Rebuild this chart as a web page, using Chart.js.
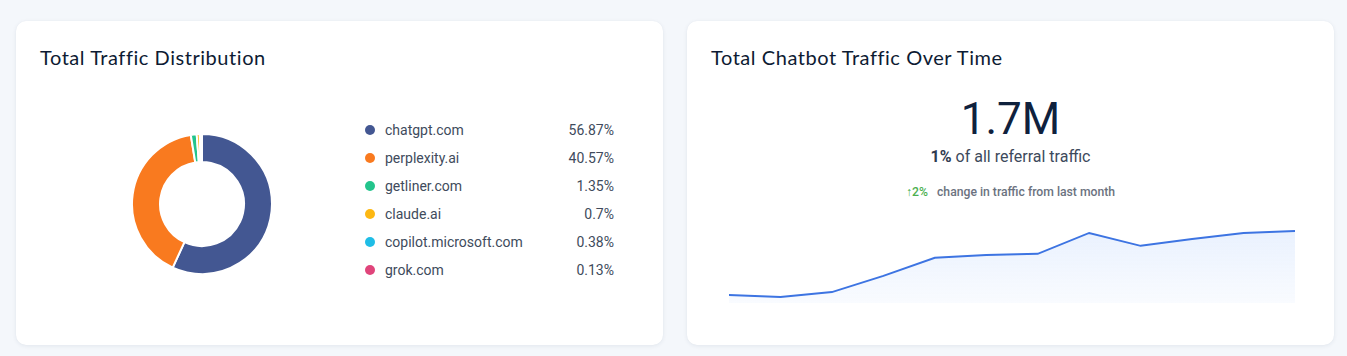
<!DOCTYPE html>
<html>
<head>
<meta charset="utf-8">
<script src="https://cdn.jsdelivr.net/npm/chart.js@4.4.1/dist/chart.umd.min.js"></script>
<style>
  html, body { margin:0; padding:0; }
  body { width:1347px; height:356px; background:#f4f7fb; position:relative; overflow:hidden; font-family: Roboto, "Noto Sans", sans-serif; }
  .card { position:absolute; top:21px; width:647px; height:324px; background:#fff; border-radius:10px;
          box-shadow: 0 1px 4px rgba(30,50,90,0.08), 0 0 1px rgba(30,50,90,0.06); }
  .title { position:absolute; left:24px; top:26px; font-family: Lato, sans-serif; font-size:20px; line-height:20px; letter-spacing:0.55px; color:#0d1b33; white-space:nowrap; }
  .abs { position:absolute; white-space:nowrap; }
  #legend { position:absolute; left:344px; top:95px; width:254px; }
  .row { display:flex; align-items:center; height:28px; font-size:14px; color:#404b5c; }
  .dot { width:10px; height:10px; border-radius:50%; margin-left:5px; margin-right:10px; flex:none; }
  .lab { flex:1; }
  .pct { text-align:right; }
</style>
</head>
<body>
<div class="card" id="c1" style="left:16px;">
  <div class="title">Total Traffic Distribution</div>
  <div class="abs" style="left:115px; top:112px; width:142px; height:142px;"><canvas id="pie" width="142" height="142"></canvas></div>
  <div id="legend"></div>
</div>
<div class="card" id="c2" style="left:687px;">
  <div class="title">Total Chatbot Traffic Over Time</div>
  <div class="abs" id="big" style="left:0; width:647px; text-align:center; top:76px; font-size:44px; line-height:44px; color:#0f213d;"></div>
  <div class="abs" id="share" style="left:0; width:647px; text-align:center; top:127.5px; font-size:16px; line-height:16px; color:#3d4a5c;"></div>
  <div class="abs" id="change" style="left:0; width:647px; text-align:center; top:164.5px; font-size:12.2px; line-height:12px; color:#6b7280; font-weight:500;"></div>
  <div class="abs" style="left:42px; top:191px; width:566px; height:91px;"><canvas id="line" width="566" height="91"></canvas></div>
</div>
<script>
// ---- data ----
const domains = ["chatgpt.com", "perplexity.ai", "getliner.com", "claude.ai", "copilot.microsoft.com", "grok.com"];
const shares = [56.87, 40.57, 1.35, 0.7, 0.38, 0.13];
const domainColors = ["#435792", "#f97a1f", "#23c48c", "#fdb813", "#1fbde6", "#e0457b"];

const months = ["Jan", "Feb", "Mar", "Apr", "May", "Jun", "Jul", "Aug", "Sep", "Oct", "Nov", "Dec"];
const trafficK = [1344, 1333, 1360, 1449, 1548, 1564, 1570, 1685, 1614, 1652, 1685, 1696];

const totalLabel = "1.7M";
const referralShare = "1%";
const monthChange = "2%";

// ---- text ----
document.getElementById('big').textContent = totalLabel;
document.getElementById('share').innerHTML = '<b style="font-weight:700;color:#2f3b4f">' + referralShare + '</b> of all referral traffic';
document.getElementById('change').innerHTML = '<span style="color:#4caf50;font-weight:500">\u2191' + monthChange + '</span>&nbsp;&nbsp; change in traffic from last month';

const legend = document.getElementById('legend');
domains.forEach((d, i) => {
  const r = document.createElement('div'); r.className = 'row';
  r.innerHTML = '<span class="dot" style="background:' + domainColors[i] + '"></span><span class="lab">' + d + '</span><span class="pct">' + shares[i] + '%</span>';
  legend.appendChild(r);
});

// ---- doughnut ----
new Chart(document.getElementById('pie'), {
  type: 'doughnut',
  data: { labels: domains, datasets: [{ data: shares, backgroundColor: domainColors, borderColor: '#ffffff', borderWidth: 2, hoverOffset: 0 }] },
  options: {
    responsive: false, animation: false, cutout: '60%',
    plugins: { legend: { display: false }, tooltip: { enabled: false } },
    layout: { padding: 0 }
  }
});

// ---- line ----
new Chart(document.getElementById('line'), {
  type: 'line',
  data: { labels: months, datasets: [{
    data: trafficK,
    borderColor: '#3d74e2', borderWidth: 2, tension: 0, pointRadius: 0,
    fill: 'start',
    backgroundColor: (ctx) => {
      const ca = ctx.chart.chartArea;
      if (!ca) return 'rgba(59,130,246,0.08)';
      const g = ctx.chart.ctx.createLinearGradient(0, ca.top, 0, ca.bottom);
      g.addColorStop(0, 'rgba(59,130,246,0.13)');
      g.addColorStop(1, 'rgba(59,130,246,0.03)');
      return g;
    }
  }] },
  options: {
    responsive: false, animation: false,
    layout: { padding: 0 },
    plugins: { legend: { display: false }, tooltip: { enabled: false } },
    scales: {
      x: { display: false, offset: false },
      y: { display: false, min: 1300, max: 1800 }
    }
  }
});
</script>
</body>
</html>
